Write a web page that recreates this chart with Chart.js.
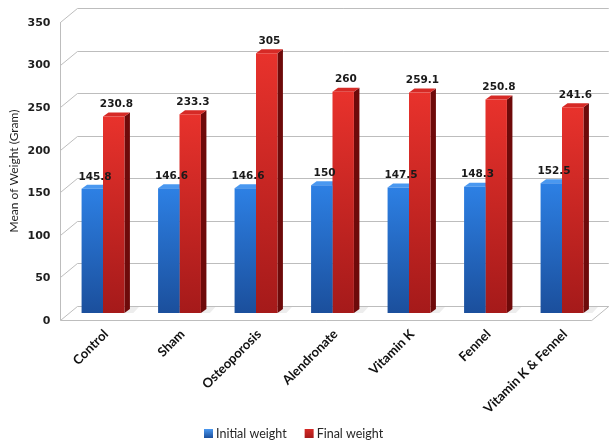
<!DOCTYPE html>
<html>
<head>
<meta charset="utf-8">
<script src="https://cdn.jsdelivr.net/npm/chart.js@4.4.1/dist/chart.umd.min.js"></script>
<style>
  html, body { margin: 0; padding: 0; background: #fff; }
  #wrap { width: 611px; height: 445px; }
</style>
</head>
<body>
<div id="wrap"><canvas id="weight-chart" width="611" height="445"></canvas></div>
<script>
// Group names and mean body weights (g)
const categories = ['Control', 'Sham', 'Osteoporosis', 'Alendronate', 'Vitamin K', 'Fennel', 'Vitamin K & Fennel'];
const initialWeight = [145.8, 146.6, 146.6, 150, 147.5, 148.3, 152.5];
const finalWeight = [230.8, 233.3, 305, 260, 259.1, 250.8, 241.6];
const seriesNames = ['Initial weight', 'Final weight'];
const yTicks = [0, 50, 100, 150, 200, 250, 300, 350];
const yTitle = 'Mean of Weight (Gram)';

// depth of the 3D box (half offsets from the bar plane) and of each bar
const DX = 8.5, DY = 7;
const BAR_DX = 5.5, BAR_DY = 4;
const GRID = '#bdbdbd';

const palette = [
  { top: '#2d80e4', bottom: '#1b4f9c', cap: '#4a98f0', side: '#143f80' },
  { top: '#e8322c', bottom: '#a51a1a', cap: '#d62a26', side: '#6e0a0a' }
];

function barFill(ctx) {
  const c = palette[ctx.datasetIndex];
  const y = ctx.chart.scales.y;
  if (!y || ctx.raw == null) return c.top;
  const y0 = y.getPixelForValue(ctx.raw), y1 = y.getPixelForValue(0);
  if (!isFinite(y0) || !isFinite(y1)) return c.top;
  const g = ctx.chart.ctx.createLinearGradient(0, y0, 0, y1);
  g.addColorStop(0, c.top);
  g.addColorStop(1, c.bottom);
  return g;
}

// walls, floor and axis text drawn around the bar plane
const box3d = {
  id: 'box3d',
  beforeDatasetsDraw(chart) {
    const { ctx, chartArea: a, scales: { y } } = chart;
    const midL = a.left + 4.2, midR = a.right;
    const fL = midL - DX, bL = midL + DX, fR = midR - DX, bR = midR + DX;
    ctx.save();
    ctx.strokeStyle = GRID;
    ctx.lineWidth = 1;
    ctx.beginPath();
    yTicks.forEach(v => {
      const p = y.getPixelForValue(v);
      ctx.moveTo(fL, Math.round(p + DY) + 0.5);
      ctx.lineTo(bL, Math.round(p - DY) + 0.5);
      ctx.lineTo(bR, Math.round(p - DY) + 0.5);
    });
    const top = y.getPixelForValue(350), zero = y.getPixelForValue(0);
    ctx.moveTo(Math.round(fL) + 0.5, top + DY);
    ctx.lineTo(Math.round(fL) + 0.5, zero + DY);
    ctx.moveTo(fL, Math.round(zero + DY) + 0.5);
    ctx.lineTo(fR, Math.round(zero + DY) + 0.5);
    ctx.lineTo(bR, Math.round(zero - DY) + 0.5);
    ctx.stroke();

    // tick labels on the front edge
    ctx.fillStyle = '#1f1f1f';
    ctx.font = 'bold 11px "DejaVu Sans"';
    ctx.textAlign = 'right';
    ctx.textBaseline = 'middle';
    yTicks.forEach(v => ctx.fillText(String(v), fL - 10, y.getPixelForValue(v) + DY + 1));

    // axis title
    ctx.save();
    ctx.translate(14, (top + zero) / 2 + DY);
    ctx.rotate(-Math.PI / 2);
    ctx.textAlign = 'center';
    ctx.font = '12px Lato';
    ctx.fillText(yTitle, 0, 0);
    ctx.restore();

    // soft floor shadow behind each group
    ctx.fillStyle = 'rgba(0,0,0,0.07)';
    chart.getDatasetMeta(1).data.forEach(bar => {
      const r = bar.x + bar.width / 2;
      ctx.beginPath();
      ctx.moveTo(r, bar.base);
      ctx.lineTo(r + 9, bar.base);
      ctx.lineTo(r + BAR_DX + 9, bar.base - BAR_DY - 2);
      ctx.lineTo(r + BAR_DX, bar.base - BAR_DY - 2);
      ctx.closePath();
      ctx.fill();
    });

    // side and top faces of each bar, under the front faces
    chart.data.datasets.forEach((ds, di) => {
      const c = palette[di];
      chart.getDatasetMeta(di).data.forEach(bar => {
        const l = bar.x - bar.width / 2, r = bar.x + bar.width / 2;
        ctx.fillStyle = c.side;
        ctx.beginPath();
        ctx.moveTo(r, bar.y);
        ctx.lineTo(r + BAR_DX, bar.y - BAR_DY);
        ctx.lineTo(r + BAR_DX, bar.base - BAR_DY);
        ctx.lineTo(r, bar.base);
        ctx.closePath();
        ctx.fill();
        ctx.fillStyle = c.cap;
        ctx.beginPath();
        ctx.moveTo(l, bar.y);
        ctx.lineTo(r, bar.y);
        ctx.lineTo(r + BAR_DX, bar.y - BAR_DY);
        ctx.lineTo(l + BAR_DX, bar.y - BAR_DY);
        ctx.closePath();
        ctx.fill();
      });
    });
    ctx.restore();
  },
  afterDatasetsDraw(chart) {
    const { ctx, scales: { x } } = chart;
    ctx.save();
    // value labels
    ctx.fillStyle = '#1a1a1a';
    ctx.font = 'bold 10.5px "DejaVu Sans"';
    ctx.textAlign = 'center';
    ctx.textBaseline = 'middle';
    chart.data.datasets.forEach((ds, di) => {
      chart.getDatasetMeta(di).data.forEach((bar, i) => {
        ctx.fillText(String(ds.data[i]), bar.x + BAR_DX / 2, bar.y - 12);
      });
    });

    // rotated category labels
    ctx.font = 'bold 13px Lato';
    ctx.textAlign = 'right';
    ctx.fillStyle = '#111';
    categories.forEach((name, i) => {
      ctx.save();
      ctx.translate(x.getPixelForValue(i) + 3, 332);
      ctx.rotate(-Math.PI / 4);
      ctx.fillText(name, 0, 0);
      ctx.restore();
    });

    // legend
    ctx.font = '12.5px Lato';
    ctx.textAlign = 'left';
    let lx = 204;
    const ly = 433.5;
    chart.data.datasets.forEach((ds, di) => {
      const c = palette[di];
      const g = ctx.createLinearGradient(0, ly - 4.5, 0, ly + 4.5);
      g.addColorStop(0, c.cap);
      g.addColorStop(1, c.bottom);
      ctx.fillStyle = g;
      ctx.fillRect(lx, ly - 4.5, 9, 9);
      ctx.fillStyle = '#262626';
      ctx.fillText(ds.label, lx + 12, ly);
      lx += 12 + ctx.measureText(ds.label).width + 18;
    });
    ctx.restore();
  }
};

new Chart(document.getElementById('weight-chart'), {
  type: 'bar',
  data: {
    labels: categories,
    datasets: [
      { label: seriesNames[0], data: initialWeight, backgroundColor: barFill },
      { label: seriesNames[1], data: finalWeight, backgroundColor: barFill }
    ]
  },
  options: {
    responsive: false,
    animation: false,
    layout: { padding: { left: 64.75, right: 10.75, top: 15, bottom: 132 } },
    datasets: { bar: { categoryPercentage: 0.56, barPercentage: 1.0, borderWidth: 0 } },
    scales: {
      x: { display: false },
      y: { display: false, min: 0, max: 350, ticks: { stepSize: 50 } }
    },
    plugins: { legend: { display: false }, tooltip: { enabled: false } }
  },
  plugins: [box3d]
});
</script>
</body>
</html>
